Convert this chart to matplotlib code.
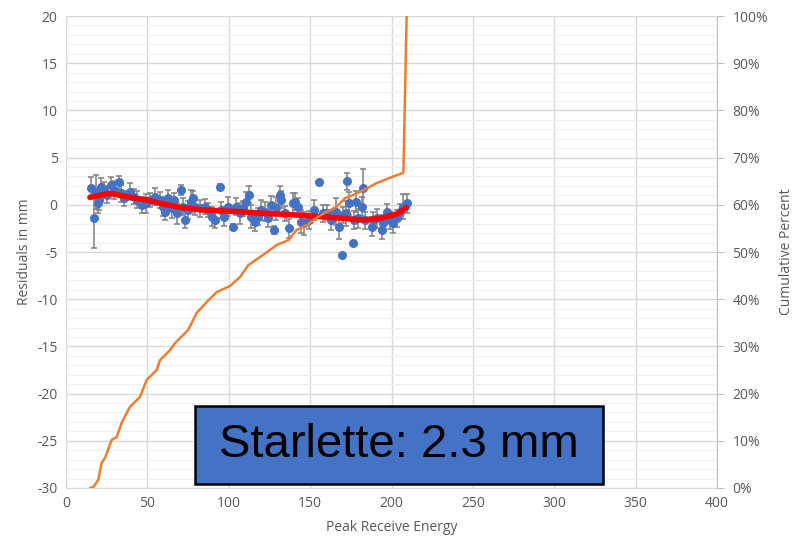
import matplotlib
matplotlib.use("Agg")
import matplotlib.pyplot as plt
from matplotlib.patches import Rectangle
from matplotlib.ticker import MultipleLocator, PercentFormatter

# residual points (x = peak receive energy, y = residual mm, err = error bar)
res_x = [15.4, 17.2, 18.4, 19.5, 20.1, 21.7, 23.1, 25.2, 27.8, 29.5, 32.4, 34.0, 35.4,
         39.1, 41.6, 43.6, 46.7, 49.2, 51.8, 54.7, 57.8, 59.4, 60.8, 62.9, 64.9, 66.4,
         68.0, 70.5, 72.1, 73.1, 75.1, 76.6, 77.8, 79.3, 82.3, 85.4, 87.4, 89.5, 91.6,
         94.6, 95.4, 97.1, 99.5, 102.6, 104.7, 106.7, 108.8, 110.8, 112.3, 113.9, 115.9,
         118.0, 119.6, 122.1, 124.1, 126.2, 127.8, 129.2, 131.3, 132.3, 134.4, 137.2,
         139.3, 140.9, 142.4, 144.4, 146.4, 149.5, 152.6, 155.6, 157.7, 160.2, 162.8,
         165.9, 167.9, 169.4, 170.4, 172.0, 172.9, 174.1, 176.3, 177.2, 178.2, 179.6,
         181.7, 182.3, 183.7, 187.8, 188.8, 190.9, 194.0, 195.0, 197.0, 199.1, 200.7,
         203.2, 205.2, 207.3, 209.3]
res_y = [1.82, -1.43, 1.39, 0.16, 0.51, 1.92, 1.57, 1.04, 2.10, 1.57, 2.38, 1.22, 0.69,
         1.39, 0.86, 0.51, -0.02, 0.16, 0.51, 0.86, 0.51, -0.20, -0.73, 0.69, -0.37, 0.51,
         -0.90, 1.57, -0.20, -1.61, -0.55, 0.33, 0.69, -0.20, -0.37, -0.20, -0.55, -1.26,
         -1.61, 1.90, -0.55, -1.26, -0.20, -2.32, -0.20, -0.90, -0.37, 0.33, 1.04, -1.26,
         -1.79, -1.26, -0.55, -0.73, -1.43, -0.02, -2.67, -0.37, 1.04, 0.51, -0.90, -2.49,
         0.16, 0.33, -0.20, -1.79, -1.96, -1.61, -0.55, 2.38, -0.90, -0.84, -1.61, -0.73,
         -2.32, -5.30, -1.08, -0.90, 2.50, 0.16, -4.08, -1.61, 0.33, -1.43, -0.20, 1.75,
         -1.61, -2.32, -1.61, -1.43, -2.67, -1.96, -0.73, -1.61, -1.96, -1.43, -0.73,
         -0.20, 0.16]
res_err = [1.1, 3.1, 1.8, 1.0, 1.1, 0.9, 0.8, 0.9, 0.8, 1.0, 0.7, 0.9, 0.8,
           0.9, 0.8, 0.9, 0.8, 1.0, 0.7, 0.9, 0.8, 1.0, 0.9, 0.9, 1.0, 0.7,
           1.1, 0.5, 0.9, 0.8, 1.0, 1.2, 0.8, 0.9, 0.9, 0.8, 0.7, 1.0, 0.8,
           0.3, 0.9, 1.0, 1.0, 0.3, 0.9, 1.1, 0.8, 1.0, 0.9, 1.2, 1.0,
           0.9, 1.1, 1.0, 0.9, 1.0, 0.4, 1.2, 1.0, 0.9, 0.8, 1.0,
           1.1, 0.9, 0.9, 1.2, 1.2, 1.0, 1.1, 0.0, 0.9, 0.8, 1.1, 1.4,
           1.3, 0.0, 0.9, 1.3, 0.9, 1.2, 0.0, 1.0, 1.1, 1.0, 1.0, 2.0,
           0.9, 1.0, 0.8, 1.0, 1.0, 0.9, 0.8, 0.9, 1.0, 0.9, 0.8,
           1.3, 1.0]

# polynomial trend line
trend_x = [14.7, 27.0, 37.3, 49.6, 57.8, 70.0, 84.4, 106.9, 121.2, 141.7, 162.2,
           182.7, 193.0, 203.2, 209.3]
trend_y = [0.79, 1.22, 0.86, 0.51, 0.16, -0.26, -0.55, -0.73, -0.90, -1.08, -1.32,
           -1.61, -1.43, -0.97, -0.31]

# cumulative percent curve (secondary axis)
cum_x = [15.0, 17.0, 19.8, 21.9, 24.0, 28.1, 31.2, 34.2, 39.3, 45.5, 49.6, 55.7, 57.8,
         63.9, 67.0, 75.1, 80.3, 86.5, 92.6, 100.8, 106.9, 112.0, 118.2, 121.2, 129.5,
         136.6, 141.8, 147.9, 155.0, 160.2, 166.3, 171.4, 176.5, 182.7, 190.9, 201.1,
         207.3, 209.3]
cum_pct = [0.0, 0.3, 1.7, 5.3, 6.4, 10.2, 10.8, 13.8, 17.2, 19.3, 22.9, 25.0, 27.1,
           29.2, 30.7, 33.5, 37.1, 39.4, 41.5, 42.8, 44.7, 47.2, 48.7, 49.4, 51.5,
           52.5, 54.7, 55.7, 57.5, 58.5, 59.6, 61.4, 62.1, 63.1, 64.6, 66.0,
           66.8, 100.0]

label_box = "Starlette: 2.3 mm"

plt.rcParams['font.family'] = ['Open Sans', 'DejaVu Sans']
plt.rcParams['axes.unicode_minus'] = False
txt_grey = "#595959"

fig = plt.figure(figsize=(7.96, 5.43), dpi=100)
ax = fig.add_axes([0.0829, 0.1013, 0.8179, 0.8692])

ax.set_xlim(0, 400)
ax.set_ylim(-30, 20)
ax.xaxis.set_major_locator(MultipleLocator(50))
ax.yaxis.set_major_locator(MultipleLocator(5))
ax.yaxis.set_minor_locator(MultipleLocator(1))
ax.grid(which="major", color="#d9d9d9", lw=1.0)
ax.grid(which="minor", axis="y", color="#f0f0f0", lw=0.8)
ax.set_axisbelow(True)
for s in ["top", "right"]:
    ax.spines[s].set_visible(False)
ax.spines["left"].set_color("#d9d9d9")
ax.spines["bottom"].set_color("#d9d9d9")
ax.tick_params(which="both", length=0, labelsize=10, colors=txt_grey, pad=6)
ax.set_xlabel("Peak Receive Energy", fontsize=10, color=txt_grey, labelpad=6)
ax.set_ylabel("Residuals in mm", fontsize=10, color=txt_grey, labelpad=4)

ax.errorbar(res_x, res_y, yerr=res_err, fmt="o", color="#4472c4", ms=5.5,
            ecolor="#808080", elinewidth=1.1, capsize=2.5, capthick=1.1, zorder=3)
ax.plot(trend_x, trend_y, color="#ff0000", lw=4, solid_capstyle="round", zorder=4)

ax2 = ax.twinx()
ax2.set_ylim(0, 100)
ax2.yaxis.set_major_locator(MultipleLocator(10))
ax2.yaxis.set_major_formatter(PercentFormatter(decimals=0))
for s in ["top", "left", "bottom"]:
    ax2.spines[s].set_visible(False)
ax2.spines["right"].set_color("#bfbfbf")
ax2.tick_params(length=5, color="#bfbfbf", labelsize=10, labelcolor=txt_grey, pad=6)
ax2.set_ylabel("Cumulative Percent", fontsize=10, color=txt_grey, labelpad=8)
ax2.plot(cum_x, cum_pct, color="#ed7d31", lw=1.8, zorder=2)

fig.patches.append(Rectangle((0.245, 0.1087), 0.5126, 0.1436, transform=fig.transFigure,
                             facecolor="#4472c4", edgecolor="black", lw=1.8, zorder=10))
fig.text(0.501, 0.180, label_box, ha="center", va="center", fontsize=34,
         family=["Liberation Sans", "DejaVu Sans"], color="black", zorder=11)

fig.savefig("out.png", dpi=100)
